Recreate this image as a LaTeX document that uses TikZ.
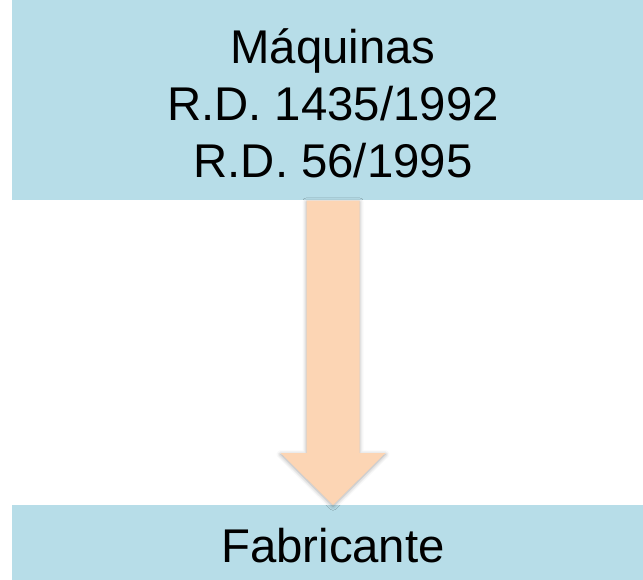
\documentclass[tikz,border=0pt]{standalone}
\usepackage{fontspec}
\setmainfont{Liberation Sans}
\usetikzlibrary{calc,shadows.blur}
\definecolor{boxblue}{HTML}{B7DDE8}
\definecolor{arrowpeach}{HTML}{FCD5B4}
\tikzset{
  boxnode/.style={fill=boxblue, draw=none, inner sep=0pt, outer sep=0pt},
  linetext/.style={anchor=base, inner sep=0pt, font=\fontsize{35.5}{42.75}\selectfont},
  bigarrow/.style={fill=arrowpeach, draw=none,
    blur shadow={shadow xshift=0pt, shadow yshift=-1pt, shadow blur radius=3pt, shadow opacity=35}}
}
\begin{document}
\begin{tikzpicture}[x=0.75pt,y=0.75pt]
\useasboundingbox (0,0) rectangle (643,-579);
\clip (0,0) rectangle (643,-579);
\node[boxnode, minimum width=481.5pt, minimum height=150pt] (top) at (333,-100) {};
\node[boxnode, minimum width=481.5pt, minimum height=75pt] (bot) at (333,-555) {};
\node[linetext] (l1) at (333,-63) {Máquinas};
\node[linetext] (l2) at (333,-120) {R.D. 1435/1992};
\node[linetext] (l3) at (333,-177) {R.D. 56/1995};
\node[linetext] (fab) at (333,-562) {Fabricante};
\path[bigarrow]
  ($(top.south)+(-26.5,-0.5)$) -- ($(top.south)+(26.5,-0.5)$)
  -- ($(bot.north)+(26.5,52)$) -- ($(bot.north)+(52.5,52)$)
  -- (bot.north) -- ($(bot.north)+(-52.5,52)$)
  -- ($(bot.north)+(-26.5,52)$) -- cycle;
\end{tikzpicture}
\end{document}
